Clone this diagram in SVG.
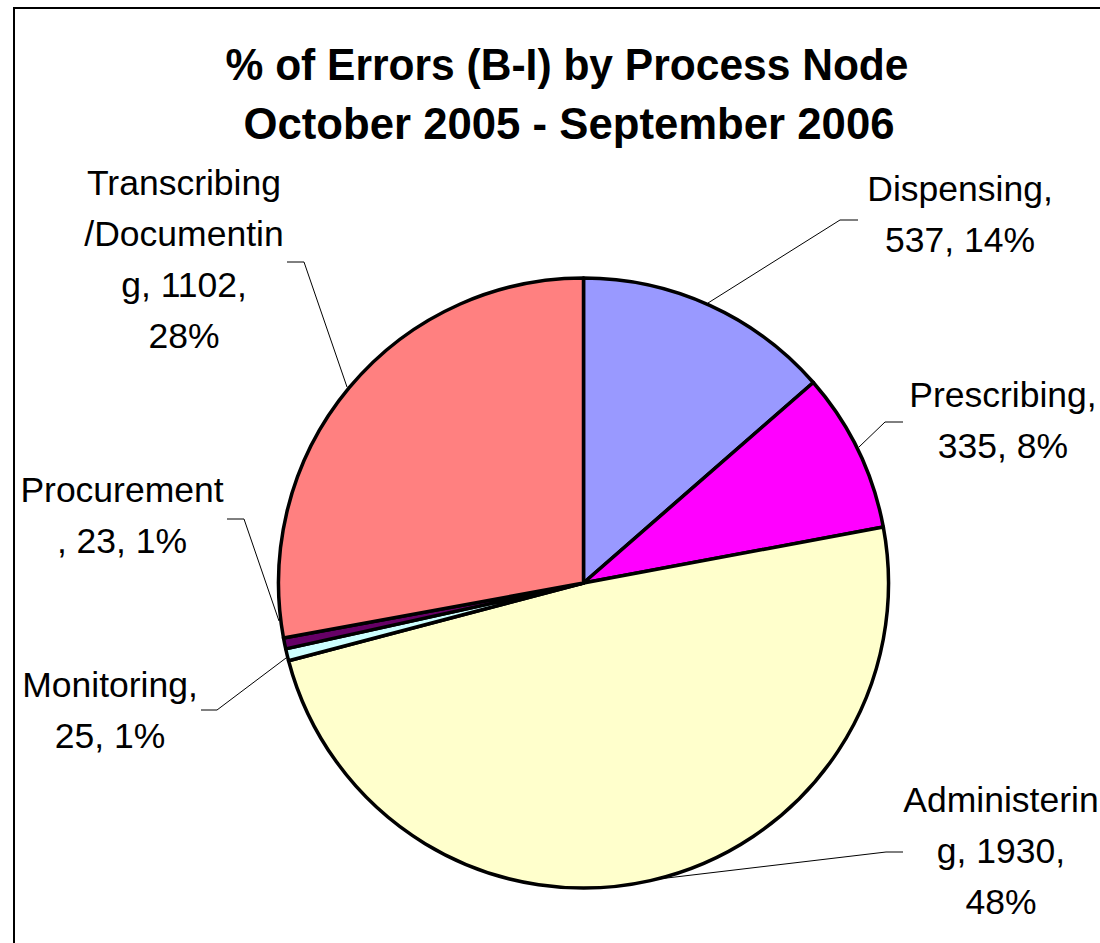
<svg xmlns="http://www.w3.org/2000/svg" width="1100" height="943" viewBox="0 0 1100 943">
<style>
.title{font-family:"Liberation Sans",Arial,sans-serif;font-weight:bold;font-size:45px;fill:#000;text-anchor:middle}
.lbl{font-family:"Liberation Sans",Arial,sans-serif;font-size:35.5px;fill:#000;text-anchor:middle}
.slice{stroke:#000;stroke-width:3.5;stroke-linejoin:round}
.lead{fill:none;stroke:#000;stroke-width:1}
</style>
<rect x="0" y="0" width="1100" height="943" fill="#fff"/>
<rect x="14" y="8" width="1100" height="960" fill="none" stroke="#000" stroke-width="2"/>
<g id="title">
<text class="title" x="567" y="80" textLength="683" lengthAdjust="spacingAndGlyphs">% of Errors (B-I) by Process Node</text>
<text class="title" x="569" y="139" textLength="651" lengthAdjust="spacingAndGlyphs">October 2005 - September 2006</text>
</g>
<g id="slice-dispensing"><path class="slice" fill="#9999FF" d="M583.5,583 L583.5,278 A305,305 0 0,1 813.33,382.49 Z"/></g>
<g id="slice-prescribing"><path class="slice" fill="#FF00FF" d="M583.5,583 L813.33,382.49 A305,305 0 0,1 883.33,527.06 Z"/></g>
<g id="slice-administering"><path class="slice" fill="#FFFFCC" d="M583.5,583 L883.33,527.06 A305,305 0 0,1 288.56,660.69 Z"/></g>
<g id="slice-monitoring"><path class="slice" fill="#CCFFFF" d="M583.5,583 L288.56,660.69 A305,305 0 0,1 285.71,648.91 Z"/></g>
<g id="slice-procurement"><path class="slice" fill="#660066" d="M583.5,583 L285.71,648.91 A305,305 0 0,1 283.5,637.99 Z"/></g>
<g id="slice-transcribing"><path class="slice" fill="#FF8080" d="M583.5,583 L283.5,637.99 A305,305 0 0,1 583.5,278 Z"/></g>
<g id="connectors">
<polyline class="lead" points="287,262 304,262 347,387"/>
<polyline class="lead" points="708,303 840,220 858,220"/>
<polyline class="lead" points="903,422 885,422 859,447"/>
<polyline class="lead" points="227,519 244,519 279,621"/>
<polyline class="lead" points="201,710 217,710 286,658"/>
<polyline class="lead" points="650,880 886,852 903,852"/>
</g>
<g id="label-transcribing">
<text class="lbl" x="184" y="195">Transcribing</text>
<text class="lbl" x="184" y="246">/Documentin</text>
<text class="lbl" x="184" y="297">g, 1102,</text>
<text class="lbl" x="184" y="348">28%</text>
</g>
<g id="label-dispensing">
<text class="lbl" x="960" y="201">Dispensing,</text>
<text class="lbl" x="960" y="252">537, 14%</text>
</g>
<g id="label-prescribing">
<text class="lbl" x="1003" y="407">Prescribing,</text>
<text class="lbl" x="1003" y="458">335, 8%</text>
</g>
<g id="label-procurement">
<text class="lbl" x="122" y="502">Procurement</text>
<text class="lbl" x="122" y="553">, 23, 1%</text>
</g>
<g id="label-monitoring">
<text class="lbl" x="110" y="697">Monitoring,</text>
<text class="lbl" x="110" y="748">25, 1%</text>
</g>
<g id="label-administering">
<text class="lbl" x="1001" y="812">Administerin</text>
<text class="lbl" x="1001" y="863">g, 1930,</text>
<text class="lbl" x="1001" y="914">48%</text>
</g>
</svg>
